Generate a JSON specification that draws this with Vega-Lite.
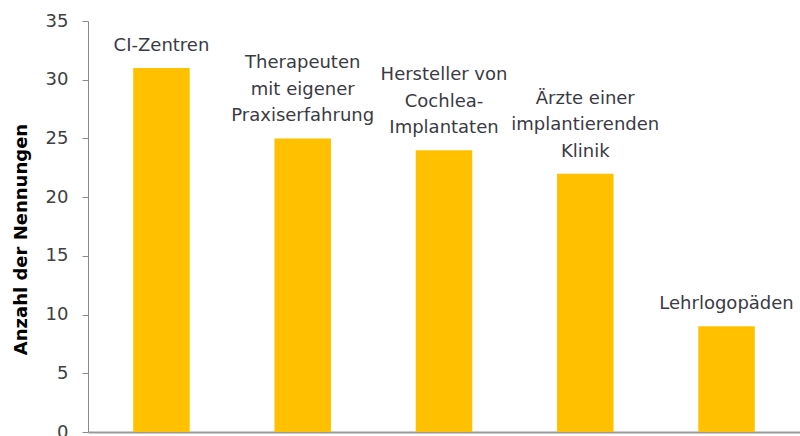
{
  "$schema": "https://vega.github.io/schema/vega-lite/v6.json",
  "width": 712,
  "height": 411,
  "autosize": "none",
  "padding": {"left": 88, "top": 21, "right": 0, "bottom": 4},
  "background": "white",
  "config": {"view": {"stroke": null}, "font": "DejaVu Sans"},
  "data": {"values": [
    {"cat": "CI-Zentren", "l1": "", "l2": "", "l3": "CI-Zentren", "n": 31},
    {"cat": "Therapeuten", "l1": "Therapeuten", "l2": "mit eigener", "l3": "Praxiserfahrung", "n": 25},
    {"cat": "Hersteller", "l1": "Hersteller von", "l2": "Cochlea-", "l3": "Implantaten", "n": 24},
    {"cat": "Ärzte", "l1": "Ärzte einer", "l2": "implantierenden", "l3": "Klinik", "n": 22},
    {"cat": "Lehrlogopäden", "l1": "", "l2": "", "l3": "Lehrlogopäden", "n": 9}
  ]},
  "encoding": {
    "x": {"field": "cat", "type": "nominal", "sort": null,
      "scale": {"paddingInner": 0.6, "paddingOuter": 0.32},
      "axis": {"title": null, "labels": false, "ticks": false, "domainColor": "#9a9a9a", "domainWidth": 2}},
    "y": {"field": "n", "type": "quantitative",
      "scale": {"domain": [0, 35]},
      "axis": {"values": [0, 5, 10, 15, 20, 25, 30, 35], "grid": false,
        "title": "Anzahl der Nennungen", "titleFont": "DejaVu Sans", "titleFontSize": 18, "titleFontWeight": "bold", "titleColor": "#000000", "titlePadding": 15, "titleY": 218,
        "labelFontSize": 18, "labelColor": "#404040", "labelPadding": 14,
        "domainColor": "#8a8a8a", "tickColor": "#8a8a8a", "tickSize": 6}}
  },
  "layer": [
    {"mark": {"type": "bar", "color": "#FFC000"}},
    {"mark": {"type": "text", "baseline": "alphabetic", "dy": -17, "fontSize": 18, "color": "#3a3a44"},
      "encoding": {"text": {"field": "l3"}}},
    {"mark": {"type": "text", "baseline": "alphabetic", "dy": -43.5, "fontSize": 18, "color": "#3a3a44"},
      "encoding": {"text": {"field": "l2"}}},
    {"mark": {"type": "text", "baseline": "alphabetic", "dy": -70, "fontSize": 18, "color": "#3a3a44"},
      "encoding": {"text": {"field": "l1"}}}
  ]
}
